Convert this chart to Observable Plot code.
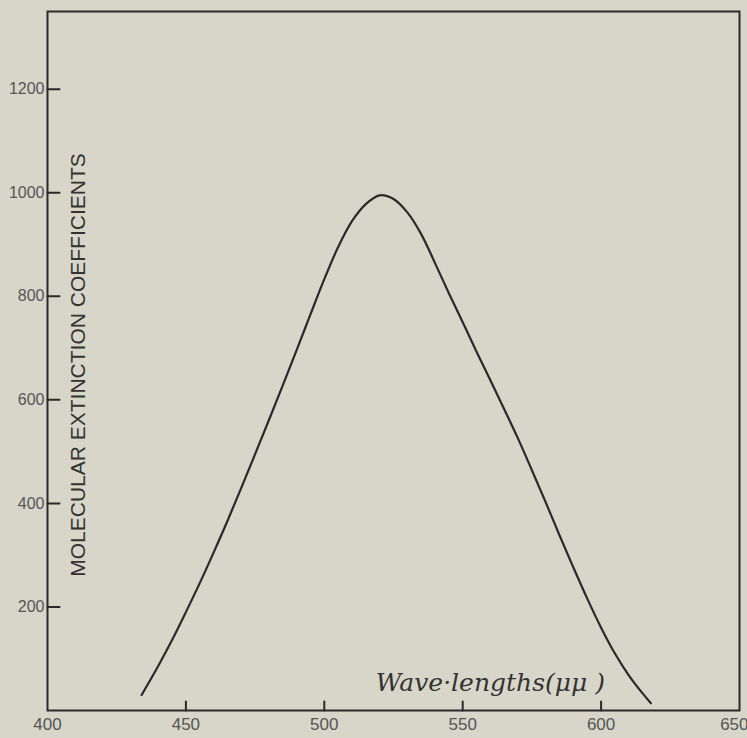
<!DOCTYPE html>
<html>
<head>
<meta charset="utf-8">
<script src="https://cdn.jsdelivr.net/npm/d3@7"></script>
<script src="https://cdn.jsdelivr.net/npm/@observablehq/plot@0.6"></script>
<style>
  html, body { margin: 0; padding: 0; background: #d7d6c9; }
  #chart svg { display: block; }
</style>
</head>
<body>
<div id="chart"></div>
<script>
// Wavelength (mμ) and molecular extinction coefficient
const wavelengths = [434, 440, 445, 450, 455, 460, 465, 470, 475, 480, 485, 490, 495, 500,
  505, 510, 515, 520, 525, 530, 535, 540, 545, 550, 555, 560, 565, 570, 575, 580,
  585, 590, 595, 600, 605, 610, 615, 618];
const coefficients = [30, 86, 136, 190, 246, 305, 366, 430, 495, 561, 628, 696, 765, 833,
  895, 945, 978, 995, 988, 962, 920, 864, 806, 750, 693, 638, 582, 525, 464, 402,
  338, 276, 216, 160, 110, 68, 33, 14];
const xTicks = [400, 450, 500, 550, 600, 650];
const yTicks = [200, 400, 600, 800, 1000, 1200];
const xLabel = "Wave·lengths(μμ )";
const yLabel = "MOLECULAR EXTINCTION COEFFICIENTS";
const xLabelAt = [560];

const data = wavelengths.map((w, i) => ({w, c: coefficients[i]}));
const ink = "#2a2a2a";
const tickShape = {draw(context, l) { context.moveTo(0, 0); context.lineTo(0, -l); }};
const fmt = d3.format("d");

const chart = Plot.plot({
  width: 747,
  height: 738,
  marginLeft: 47,
  marginRight: 8,
  marginTop: 11,
  marginBottom: 28,
  style: {background: "#d7d6c9", fontFamily: "'Liberation Sans', Arial, sans-serif"},
  x: {domain: [400, 650]},
  y: {domain: [0, 1350]},
  marks: [
    Plot.frame({stroke: ink, strokeWidth: 2}),
    Plot.axisX({ticks: xTicks.filter(t => t < 650), tickFormat: fmt, tickSize: 0, tickPadding: 7, fontSize: 17, color: "#555", label: null}),
    Plot.axisX({ticks: xTicks.filter(t => t === 650), tickFormat: fmt, tickSize: 0, tickPadding: 7, fontSize: 17, color: "#555", label: null, textAnchor: "end", dx: 9}),
    Plot.axisY({ticks: yTicks, tickFormat: fmt, tickSize: 0, tickPadding: 3, fontSize: 16, color: "#555", label: null}),
    Plot.vector(xTicks.filter(t => t > 400 && t < 650), {x: d => d, frameAnchor: "bottom", length: 9, anchor: "start", shape: tickShape, stroke: ink, strokeWidth: 2}),
    Plot.vector(yTicks, {y: d => d, frameAnchor: "left", length: 12, rotate: 90, anchor: "start", shape: tickShape, stroke: ink, strokeWidth: 2}),
    Plot.line(data, {x: "w", y: "c", curve: "catmull-rom", stroke: ink, strokeWidth: 2.2}),
    Plot.text([yLabel], {text: d => d, frameAnchor: "left", textAnchor: "middle", rotate: -90, dx: 31, dy: 4, fontSize: 21, fill: "#333", fontFamily: "'Liberation Sans', Arial, sans-serif"}),
    Plot.text(xLabelAt, {x: d => d, text: () => xLabel, frameAnchor: "bottom", lineAnchor: "bottom", dy: -20, fontSize: 25, fontStyle: "italic", fill: "#333", fontFamily: "'DejaVu Serif', 'Liberation Serif', serif"})
  ]
});
document.getElementById("chart").append(chart);
</script>
</body>
</html>
